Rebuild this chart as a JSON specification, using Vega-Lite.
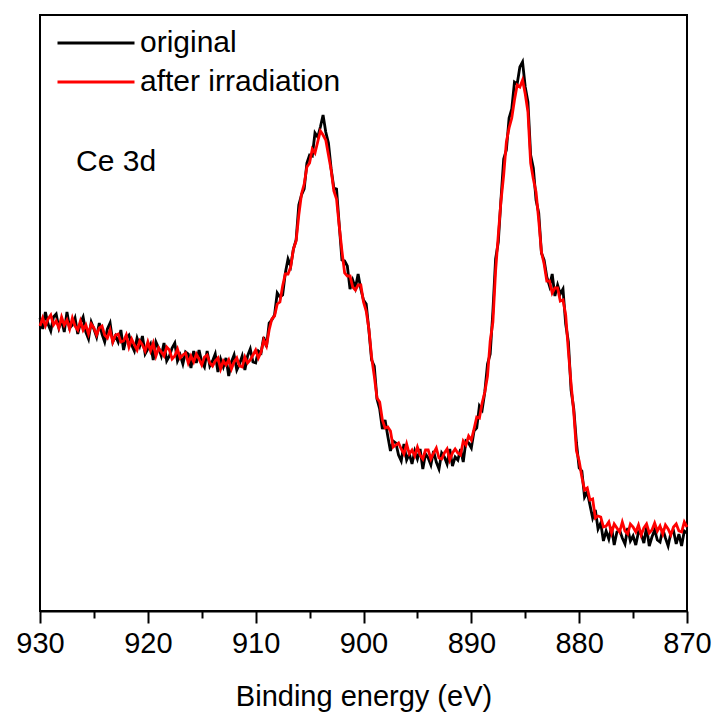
{
 "$schema": "https://vega.github.io/schema/vega-lite/v6.json",
 "width": 647,
 "height": 596,
 "autosize": {"type": "none"},
 "padding": {"left": 40, "top": 15, "right": 31, "bottom": 106},
 "background": "white",
 "config": {"view": {"stroke": "black", "strokeWidth": 2}, "font": "Liberation Sans", "axis": {"grid": false}},
 "data": {"values": [
{"e":930,"o":289,"a":281},{"e":929.75,"o":278,"a":289},{"e":929.5,"o":295,"a":281},{"e":929.25,"o":283,"a":288},{"e":929,"o":276,"a":292},
{"e":928.75,"o":290,"a":282},{"e":928.5,"o":293,"a":286},{"e":928.25,"o":279,"a":279},{"e":928,"o":287,"a":290},{"e":927.75,"o":275,"a":282},
{"e":927.5,"o":295,"a":287},{"e":927.25,"o":279,"a":278},{"e":927,"o":282,"a":289},{"e":926.75,"o":289,"a":281},{"e":926.5,"o":273,"a":277},
{"e":926.25,"o":284,"a":286},{"e":926,"o":290,"a":277},{"e":925.75,"o":275,"a":282},{"e":925.5,"o":268,"a":273},{"e":925.25,"o":285,"a":283},
{"e":925,"o":278,"a":279},{"e":924.75,"o":270,"a":272},{"e":924.5,"o":284,"a":279},{"e":924.25,"o":273,"a":281},{"e":924,"o":265,"a":272},
{"e":923.75,"o":278,"a":269},{"e":923.5,"o":284,"a":277},{"e":923.25,"o":265,"a":265},{"e":923,"o":271,"a":272},{"e":922.75,"o":265,"a":273},
{"e":922.5,"o":277,"a":265},{"e":922.25,"o":257,"a":266},{"e":922,"o":269,"a":272},{"e":921.75,"o":272,"a":260},{"e":921.5,"o":262,"a":268},
{"e":921.25,"o":256,"a":262},{"e":921,"o":269,"a":257},{"e":920.75,"o":261,"a":266},{"e":920.5,"o":271,"a":262},{"e":920.25,"o":253,"a":256},
{"e":920,"o":258,"a":265},{"e":919.75,"o":263,"a":256},{"e":919.5,"o":247,"a":264},{"e":919.25,"o":265,"a":251},{"e":919,"o":259,"a":259},
{"e":918.75,"o":251,"a":255},{"e":918.5,"o":264,"a":251},{"e":918.25,"o":246,"a":260},{"e":918,"o":251,"a":257},{"e":917.75,"o":259,"a":248},
{"e":917.5,"o":264,"a":251},{"e":917.25,"o":246,"a":258},{"e":917,"o":252,"a":249},{"e":916.75,"o":243,"a":252},{"e":916.5,"o":255,"a":254},
{"e":916.25,"o":253,"a":244},{"e":916,"o":239,"a":251},{"e":915.75,"o":256,"a":245},{"e":915.5,"o":244,"a":253},{"e":915.25,"o":257,"a":248},
{"e":915,"o":245,"a":242},{"e":914.75,"o":240,"a":250},{"e":914.5,"o":256,"a":252},{"e":914.25,"o":241,"a":244},{"e":914,"o":246,"a":241},
{"e":913.75,"o":253,"a":246},{"e":913.5,"o":235,"a":249},{"e":913.25,"o":248,"a":238},{"e":913,"o":240,"a":246},{"e":912.75,"o":249,"a":242},
{"e":912.5,"o":231,"a":247},{"e":912.25,"o":245,"a":238},{"e":912,"o":252,"a":245},{"e":911.75,"o":237,"a":249},{"e":911.5,"o":243,"a":241},
{"e":911.25,"o":251,"a":240},{"e":911,"o":237,"a":250},{"e":910.75,"o":251,"a":244},{"e":910.5,"o":258,"a":247},{"e":910.25,"o":245,"a":252},
{"e":910,"o":244,"a":257},{"e":909.75,"o":256,"a":249},{"e":909.5,"o":254,"a":255},{"e":909.25,"o":270,"a":267},{"e":909,"o":260,"a":261},
{"e":908.75,"o":284,"a":277},{"e":908.5,"o":287,"a":288},{"e":908.25,"o":292,"a":291},{"e":908,"o":314,"a":303},{"e":907.75,"o":310,"a":305},
{"e":907.5,"o":312,"a":321},{"e":907.25,"o":334,"a":333},{"e":907,"o":348,"a":333},{"e":906.75,"o":341,"a":340},{"e":906.5,"o":358,"a":358},
{"e":906.25,"o":367,"a":366},{"e":906,"o":402,"a":392},{"e":905.75,"o":412,"a":413},{"e":905.5,"o":418,"a":423},{"e":905.25,"o":444,"a":440},
{"e":905,"o":452,"a":444},{"e":904.75,"o":451,"a":458},{"e":904.5,"o":474,"a":454},{"e":904.25,"o":470,"a":465},{"e":904,"o":480,"a":476},
{"e":903.75,"o":492,"a":472},{"e":903.5,"o":475,"a":467},{"e":903.25,"o":464,"a":452},{"e":903,"o":438,"a":437},{"e":902.75,"o":419,"a":416},
{"e":902.5,"o":418,"a":408},{"e":902.25,"o":382,"a":381},{"e":902,"o":347,"a":356},{"e":901.75,"o":346,"a":334},{"e":901.5,"o":341,"a":331},
{"e":901.25,"o":318,"a":331},{"e":901,"o":327,"a":320},{"e":900.75,"o":319,"a":317},{"e":900.5,"o":333,"a":322},{"e":900.25,"o":318,"a":322},
{"e":900,"o":307,"a":305},{"e":899.75,"o":303,"a":296},{"e":899.5,"o":277,"a":278},{"e":899.25,"o":247,"a":250},{"e":899,"o":241,"a":231},
{"e":898.75,"o":208,"a":209},{"e":898.5,"o":198,"a":205},{"e":898.25,"o":178,"a":187},{"e":898,"o":187,"a":179},{"e":897.75,"o":171,"a":180},
{"e":897.5,"o":156,"a":176},{"e":897.25,"o":166,"a":160},{"e":897,"o":164,"a":162},{"e":896.75,"o":152,"a":164},{"e":896.5,"o":146,"a":158},
{"e":896.25,"o":163,"a":153},{"e":896,"o":147,"a":163},{"e":895.75,"o":153,"a":153},{"e":895.5,"o":143,"a":157},{"e":895.25,"o":156,"a":151},
{"e":895,"o":148,"a":160},{"e":894.75,"o":158,"a":152},{"e":894.5,"o":138,"a":148},{"e":894.25,"o":153,"a":157},{"e":894,"o":149,"a":157},
{"e":893.75,"o":142,"a":148},{"e":893.5,"o":156,"a":154},{"e":893.25,"o":145,"a":159},{"e":893,"o":138,"a":149},{"e":892.75,"o":154,"a":148},
{"e":892.5,"o":150,"a":154},{"e":892.25,"o":143,"a":158},{"e":892,"o":158,"a":147},{"e":891.75,"o":141,"a":154},{"e":891.5,"o":150,"a":158},
{"e":891.25,"o":147,"a":154},{"e":891,"o":158,"a":152},{"e":890.75,"o":145,"a":166},{"e":890.5,"o":166,"a":162},{"e":890.25,"o":164,"a":171},
{"e":890,"o":159,"a":167},{"e":889.75,"o":176,"a":178},{"e":889.5,"o":179,"a":190},{"e":889.25,"o":201,"a":189},{"e":889,"o":197,"a":204},
{"e":888.75,"o":215,"a":215},{"e":888.5,"o":243,"a":231},{"e":888.25,"o":253,"a":266},{"e":888,"o":296,"a":285},{"e":887.75,"o":348,"a":336},
{"e":887.5,"o":365,"a":372},{"e":887.25,"o":408,"a":406},{"e":887,"o":448,"a":432},{"e":886.75,"o":457,"a":465},{"e":886.5,"o":489,"a":479},
{"e":886.25,"o":498,"a":489},{"e":886,"o":525,"a":507},{"e":885.75,"o":523,"a":522},{"e":885.5,"o":540,"a":520},{"e":885.25,"o":545,"a":527},
{"e":885,"o":520,"a":513},{"e":884.75,"o":505,"a":495},{"e":884.5,"o":452,"a":444},{"e":884.25,"o":439,"a":428},{"e":884,"o":407,"a":415},
{"e":883.75,"o":394,"a":387},{"e":883.5,"o":354,"a":355},{"e":883.25,"o":347,"a":343},{"e":883,"o":330,"a":326},{"e":882.75,"o":321,"a":326},
{"e":882.5,"o":333,"a":314},{"e":882.25,"o":311,"a":319},{"e":882,"o":322,"a":319},{"e":881.75,"o":313,"a":306},{"e":881.5,"o":318,"a":307},
{"e":881.25,"o":283,"a":292},{"e":881,"o":265,"a":256},{"e":880.75,"o":217,"a":223},{"e":880.5,"o":198,"a":195},{"e":880.25,"o":164,"a":156},
{"e":880,"o":139,"a":146},{"e":879.75,"o":136,"a":130},{"e":879.5,"o":110,"a":117},{"e":879.25,"o":115,"a":119},{"e":879,"o":102,"a":107},
{"e":878.75,"o":89,"a":108},{"e":878.5,"o":97,"a":89},{"e":878.25,"o":78,"a":91},{"e":878,"o":84,"a":90},{"e":877.75,"o":66,"a":80},
{"e":877.5,"o":76,"a":81},{"e":877.25,"o":68,"a":85},{"e":877,"o":80,"a":74},{"e":876.75,"o":62,"a":83},{"e":876.5,"o":75,"a":79},
{"e":876.25,"o":77,"a":75},{"e":876,"o":69,"a":85},{"e":875.75,"o":63,"a":76},{"e":875.5,"o":79,"a":73},{"e":875.25,"o":66,"a":83},
{"e":875,"o":71,"a":80},{"e":874.75,"o":62,"a":75},{"e":874.5,"o":75,"a":82},{"e":874.25,"o":73,"a":72},{"e":874,"o":64,"a":79},
{"e":873.75,"o":80,"a":83},{"e":873.5,"o":61,"a":74},{"e":873.25,"o":70,"a":77},{"e":873,"o":77,"a":84},{"e":872.75,"o":67,"a":76},
{"e":872.5,"o":65,"a":81},{"e":872.25,"o":78,"a":73},{"e":872,"o":69,"a":82},{"e":871.75,"o":61,"a":78},{"e":871.5,"o":74,"a":72},
{"e":871.25,"o":76,"a":80},{"e":871,"o":63,"a":83},{"e":870.75,"o":73,"a":76},{"e":870.5,"o":61,"a":75},{"e":870.25,"o":76,"a":85},
{"e":870,"o":74,"a":80}
 ]},
 "layer": [
  {
   "mark": {"type": "line", "strokeWidth": 2.8},
   "encoding": {
    "x": {"field": "e", "type": "quantitative",
      "scale": {"domain": [870, 930], "reverse": true, "nice": false, "zero": false},
      "axis": {"orient": "bottom", "values": [930, 920, 910, 900, 890, 880, 870], "format": "d", "title": "Binding energy (eV)",
        "labelFontSize": 29, "titleFontSize": 29, "titleFontWeight": "normal", "labelColor": "black", "titleColor": "black",
        "tickColor": "black", "domainColor": "black", "tickWidth": 2, "domainWidth": 2, "tickSize": 12,
        "labelPadding": 6, "titlePadding": 24, "labelFlush": false, "labelOverlap": false, "grid": false}},
    "y": {"field": "o", "type": "quantitative", "scale": {"domain": [-4, 592], "nice": false, "zero": false}, "axis": null},
    "color": {"datum": "original", "type": "nominal",
      "scale": {"domain": ["original", "after irradiation"], "range": ["black", "red"]},
      "legend": {"orient": "none", "legendX": 16, "legendY": 13, "title": null, "symbolType": "stroke", "symbolSize": 5929,
        "symbolStrokeWidth": 3, "labelFontSize": 30, "labelColor": "black", "labelOffset": 4, "labelLimit": 0,
        "clipHeight": 30, "rowPadding": 9, "padding": 0}}
   }
  },
  {
   "mark": {"type": "line", "strokeWidth": 2.8},
   "encoding": {
    "x": {"field": "e", "type": "quantitative",
      "axis": {"orient": "bottom", "values": [925, 915, 905, 895, 885, 875], "labels": false, "domain": false, "tickSize": 7, "tickWidth": 2,
        "tickColor": "black", "title": null, "grid": false}},
    "y": {"field": "a", "type": "quantitative"},
    "color": {"datum": "after irradiation", "type": "nominal"}
   }
  },
  {
   "data": {"values": [{"t": "Ce 3d", "e": 926.66, "v": 445}]},
   "mark": {"type": "text", "fontSize": 30, "align": "left", "baseline": "middle", "color": "black"},
   "encoding": {
    "x": {"field": "e", "type": "quantitative", "axis": null},
    "y": {"field": "v", "type": "quantitative"},
    "text": {"field": "t"}
   }
  }
 ],
 "resolve": {"axis": {"x": "independent"}}
}
